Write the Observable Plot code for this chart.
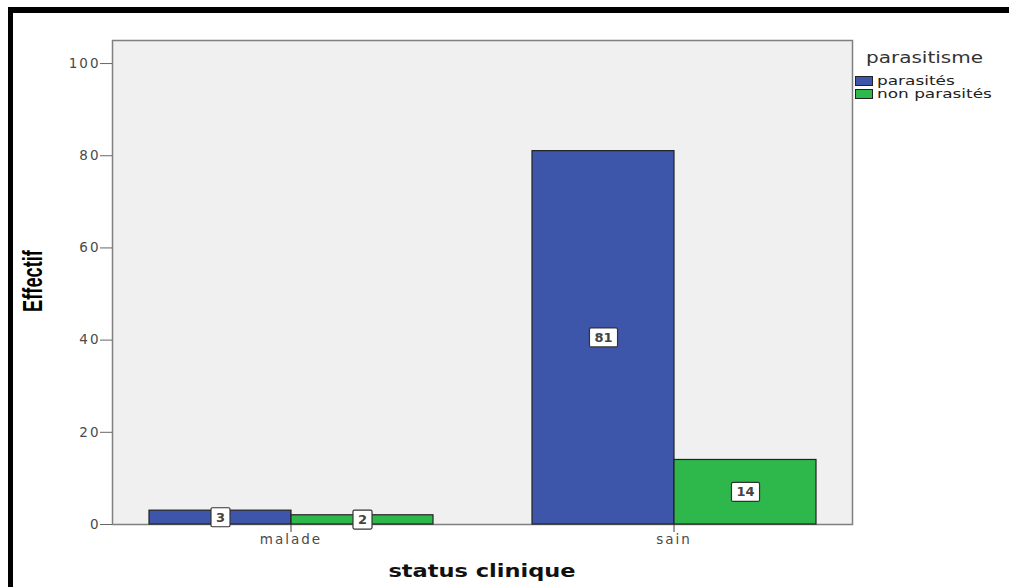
<!DOCTYPE html>
<html><head><meta charset="utf-8">
<script src="https://cdn.jsdelivr.net/npm/d3@7"></script>
<script src="https://cdn.jsdelivr.net/npm/@observablehq/plot@0.6"></script>
<style>
body{margin:0;background:#fff;}
#wrap{position:relative;width:1009px;height:587px;overflow:hidden;font-family:"DejaVu Sans",sans-serif;}
#border{position:absolute;left:8px;top:7px;width:1020px;height:600px;border-left:5px solid #000;border-top:6px solid #000;box-sizing:border-box;}
#chart{position:absolute;left:0;top:0;}
.ov{position:absolute;white-space:nowrap;}
#ylab{left:33px;top:281px;font-family:"Liberation Sans",sans-serif;font-weight:bold;font-size:22px;line-height:22px;color:#000;transform:translate(-50%,-50%) rotate(-90deg) scale(0.83,1.25);}
#xlab{left:482px;top:570px;font-weight:bold;font-size:18px;color:#111;transform:translate(-50%,-50%) scaleX(1.25);}
#legtitle{left:866px;top:58px;font-size:16px;line-height:16px;color:#333;transform:translateY(-50%) scaleX(1.25);transform-origin:left center;}
.legrow{position:absolute;left:855px;height:11px;display:flex;align-items:center;}
.sw{width:18px;height:10px;border:1px solid #222;box-sizing:border-box;flex:none;}
.legrow span{font-size:13px;line-height:11px;color:#222;margin-left:4px;transform:scaleX(1.3);transform-origin:left center;}
#chart svg g[aria-label="y-axis tick label"] text,#chart svg g[aria-label="fx-axis tick label"] text{letter-spacing:2px;}
#chart svg g[aria-label="frame"]{filter:drop-shadow(1.5px 1.5px 1px rgba(0,0,0,0.35));}
</style></head>
<body><div id="wrap"><div id="chart"></div><div id="border"></div>
<div class="ov" id="ylab">Effectif</div>
<div class="ov" id="xlab">status clinique</div>
<div class="ov" id="legtitle">parasitisme</div>
<div id="legend"></div>
</div>
<script>
const statusClinique = ["malade", "sain"];
const parasitisme = ["parasités", "non parasités"];
const effectifParasites = [3, 81];
const effectifNonParasites = [2, 14];
const yTicks = [0, 20, 40, 60, 80, 100];
const couleurs = ["#3d56a9", "#2eb84b"];

const data = statusClinique.flatMap((s, i) => [
  {status: s, parasitisme: parasitisme[0], effectif: effectifParasites[i]},
  {status: s, parasitisme: parasitisme[1], effectif: effectifNonParasites[i]}
]);

const chart = Plot.plot({
  width: 1009, height: 587,
  marginLeft: 112, marginRight: 157, marginTop: 40, marginBottom: 63,
  style: {background: "transparent", fontFamily: "DejaVu Sans", fontSize: "13.5px", color: "#555", overflow: "visible"},
  fx: {domain: statusClinique, paddingInner: 0.068, paddingOuter: 0, label: null},
  x: {domain: parasitisme, paddingInner: 0, paddingOuter: 0.257, axis: null},
  y: {domain: [0, 105], label: null},
  color: {domain: parasitisme, range: couleurs},
  marks: [
    Plot.frame({facet: "super", fill: "#f0f0f0", stroke: "#808080", strokeWidth: 1.5}),
    Plot.barY(data, {fx: "status", x: "parasitisme", y: "effectif", fill: "parasitisme", stroke: "#222", strokeWidth: 1.2}),
    Plot.text(data, {fx: "status", x: "parasitisme", y: d => d.effectif / 2, text: d => String(d.effectif), className: "vlabel", fontSize: 13, fontWeight: "bold", fill: "#444"}),
    Plot.axisY({ticks: yTicks, tickSize: 12, tickPadding: 0, label: null, stroke: "#666", fill: "#4a4a4a"}),
    Plot.axisFx({anchor: "bottom", tickSize: 8, tickPadding: 2, label: null, stroke: "#444", fill: "#4a4a4a"})
  ]
});
document.getElementById("chart").append(chart);

for (const t of chart.querySelectorAll(".vlabel text")) {
  const b = t.getBBox();
  const r = document.createElementNS("http://www.w3.org/2000/svg", "rect");
  r.setAttribute("x", b.x - 5);
  r.setAttribute("y", b.y - 2);
  r.setAttribute("width", b.width + 10);
  r.setAttribute("height", b.height + 4);
  r.setAttribute("rx", 1.5);
  r.setAttribute("fill", "#fff");
  r.setAttribute("stroke", "#333");
  r.setAttribute("stroke-width", 1.2);
  if (t.getAttribute("transform")) r.setAttribute("transform", t.getAttribute("transform"));
  t.parentNode.insertBefore(r, t);
}

const leg = document.getElementById("legend");
parasitisme.forEach((p, i) => {
  const row = document.createElement("div");
  row.className = "legrow";
  row.style.top = (75 + i * 13) + "px";
  row.innerHTML = `<div class="sw" style="background:${couleurs[i]}"></div><span>${p}</span>`;
  leg.append(row);
});
</script>
</body></html>
